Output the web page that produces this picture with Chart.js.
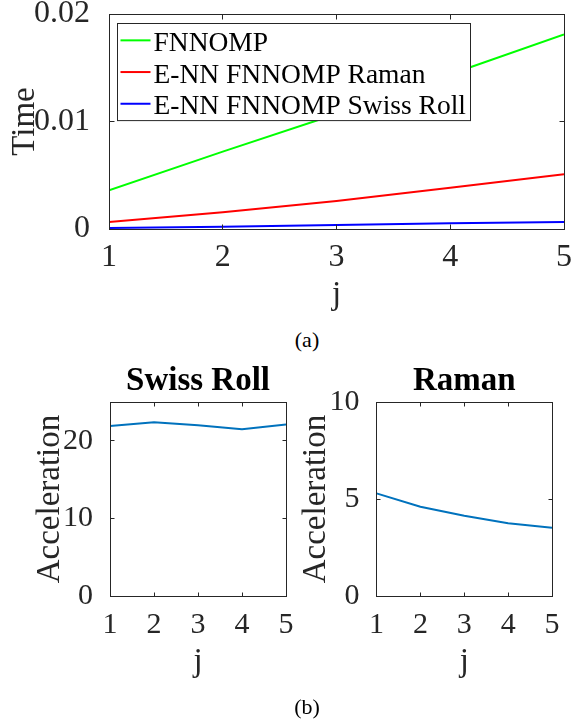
<!DOCTYPE html>
<html>
<head>
<meta charset="utf-8">
<script src="https://cdn.jsdelivr.net/npm/chart.js@4.4.0/dist/chart.umd.min.js"></script>
<style>
  html, body { margin: 0; padding: 0; background: #fff; }
  #page { position: relative; width: 579px; height: 724px; overflow: hidden; font-family: 'Liberation Serif', 'Times New Roman', serif; }
  canvas { position: absolute; }
  .caption { position: absolute; font-size: 22px; line-height: 25px; color: #000; transform: translateX(-50%); }
</style>
</head>
<body>
<div id="page">
  <canvas id="timeChart" width="579" height="320" style="left:0;top:0"></canvas>
  <div class="caption" style="left:307px;top:327px">(a)</div>
  <canvas id="swissChart" width="300" height="335" style="left:0;top:350px"></canvas>
  <canvas id="ramanChart" width="289" height="335" style="left:290px;top:350px"></canvas>
  <div class="caption" style="left:307px;top:694px">(b)</div>
</div>
<script>
// --- Data ---
const jValues = [1, 2, 3, 4, 5];
const timeFnnomp = [0.0036, 0.0072, 0.0107, 0.0144, 0.0181];
const timeEnnRaman = [0.00064, 0.00155, 0.0026, 0.00384, 0.00509];
const timeEnnSwiss = [0.0001, 0.00021, 0.00037, 0.00053, 0.00065];
const accelSwiss = [21.9, 22.4, 22.0, 21.5, 22.1];
const accelRaman = [5.29, 4.60, 4.14, 3.75, 3.52];

const jTicks = [1, 2, 3, 4, 5];
const timeTicks = [0, 0.01, 0.02];
const swissTicks = [0, 10, 20];
const ramanTicks = [0, 5, 10];

// --- Look ---
const FONT = "'Liberation Serif', 'Times New Roman', serif";
const INK = '#262626';

const toPoints = (ys) => jValues.map((j, i) => ({ x: j, y: ys[i] }));

// MATLAB style box with inward ticks on all four sides
const matlabBox = {
  id: 'matlabBox',
  afterDatasetsDraw(chart, args, opts) {
    const { ctx, chartArea: a, scales: { x, y } } = chart;
    const len = opts.tickLength || 5;
    const L = Math.floor(a.left) + 0.5, R = Math.floor(a.right) + 0.5;
    const T = Math.floor(a.top) + 0.5, B = Math.floor(a.bottom) + 0.5;
    ctx.save();
    ctx.strokeStyle = INK;
    ctx.lineWidth = 1;
    ctx.beginPath();
    x.ticks.forEach(t => {
      const px = Math.floor(x.getPixelForValue(t.value)) + 0.5;
      ctx.moveTo(px, B); ctx.lineTo(px, B - len);
      ctx.moveTo(px, T); ctx.lineTo(px, T + len);
    });
    y.ticks.forEach(t => {
      const py = Math.floor(y.getPixelForValue(t.value)) + 0.5;
      ctx.moveTo(L, py); ctx.lineTo(L + len, py);
      ctx.moveTo(R, py); ctx.lineTo(R - len, py);
    });
    ctx.stroke();
    ctx.strokeRect(L, T, R - L, B - T);
    ctx.restore();
  }
};

// Legend drawn inside the axes, with a frame
const boxLegend = {
  id: 'boxLegend',
  afterDraw(chart, args, opts) {
    if (!opts.display) return;
    const { ctx, chartArea } = chart;
    const sets = chart.data.datasets;
    ctx.save();
    ctx.font = `${opts.fontSize}px ${FONT}`;
    const textW = Math.max(...sets.map(d => ctx.measureText(d.label).width));
    const left = Math.floor(chartArea.left + opts.offsetX) + 0.5;
    const top = Math.floor(chartArea.top + opts.offsetY) + 0.5;
    const w = Math.round(3 + opts.lineLength + 3 + textW + 5);
    const h = sets.length * opts.rowHeight + 2;
    ctx.fillStyle = '#fff';
    ctx.fillRect(left, top, w, h);
    ctx.strokeStyle = INK;
    ctx.lineWidth = 1;
    ctx.strokeRect(left, top, w, h);
    sets.forEach((d, i) => {
      const cy = top + 1 + opts.rowHeight * (i + 0.5);
      ctx.strokeStyle = d.borderColor;
      ctx.lineWidth = 2;
      ctx.beginPath();
      ctx.moveTo(left + 3, cy);
      ctx.lineTo(left + 3 + opts.lineLength, cy);
      ctx.stroke();
      ctx.fillStyle = '#000';
      ctx.textBaseline = 'alphabetic';
      ctx.fillText(d.label, left + 6 + opts.lineLength, cy + 10.5);
    });
    ctx.restore();
  }
};

// Bold panel title centred over the plot area
const panelTitle = {
  id: 'panelTitle',
  afterDraw(chart, args, opts) {
    if (!opts.text) return;
    const { ctx, chartArea } = chart;
    ctx.save();
    ctx.font = `bold ${opts.size}px ${FONT}`;
    ctx.fillStyle = '#000';
    ctx.textAlign = 'center';
    ctx.textBaseline = 'alphabetic';
    ctx.fillText(opts.text, (chartArea.left + chartArea.right) / 2, chartArea.top - opts.gap);
    ctx.restore();
  }
};

Chart.register(matlabBox, boxLegend, panelTitle);

function xScale(cfg) {
  return {
    type: 'linear', min: 1, max: 5,
    afterBuildTicks: s => { s.ticks = jTicks.map(v => ({ value: v })); },
    afterFit: s => { s.height = cfg.height; s.paddingLeft = 0; s.paddingRight = 0; },
    grid: { display: false },
    border: { display: false },
    ticks: { color: INK, font: { family: FONT, size: cfg.tickSize }, padding: cfg.tickPad, maxRotation: 0, autoSkip: false },
    title: { display: true, text: 'j', color: INK, font: { family: FONT, size: 33 }, padding: { top: 0, bottom: cfg.titlePad } }
  };
}

function yScale(cfg) {
  return {
    type: 'linear', min: cfg.min, max: cfg.max,
    afterBuildTicks: s => { s.ticks = cfg.ticks.map(v => ({ value: v })); },
    afterFit: s => { s.width = cfg.width; s.paddingTop = 0; s.paddingBottom = 0; },
    grid: { display: false },
    border: { display: false },
    ticks: { color: INK, font: { family: FONT, size: cfg.tickSize }, padding: cfg.tickPad, callback: cfg.format || (v => String(v)) },
    title: { display: true, text: cfg.title, color: INK, font: { family: FONT, size: 33 }, padding: { top: cfg.titlePad, bottom: 0 } }
  };
}

function lineSet(label, ys, color) {
  return { label, data: toPoints(ys), borderColor: color, backgroundColor: color, borderWidth: 2, pointRadius: 0, tension: 0, fill: false };
}

const baseOptions = {
  responsive: false,
  animation: false,
  events: [],
  plugins: { legend: { display: false }, tooltip: { enabled: false } }
};

// --- (a) time ---
new Chart(document.getElementById('timeChart'), {
  type: 'line',
  data: {
    datasets: [
      lineSet('FNNOMP', timeFnnomp, '#00ff00'),
      lineSet('E-NN FNNOMP Raman', timeEnnRaman, '#ff0000'),
      lineSet('E-NN FNNOMP Swiss Roll', timeEnnSwiss, '#0000ff')
    ]
  },
  options: {
    ...baseOptions,
    layout: { padding: { left: 0, top: 14, right: 15, bottom: 0 } },
    scales: {
      x: xScale({ height: 91, tickSize: 32, tickPad: 1, titlePad: 5 }),
      y: yScale({ min: 0, max: 0.02, ticks: timeTicks, width: 109, tickSize: 32, tickPad: 11, title: 'Time', titlePad: 6,
                  format: v => String(+v.toFixed(2)) })
    },
    plugins: {
      ...baseOptions.plugins,
      matlabBox: { tickLength: 5 },
      boxLegend: { display: true, offsetX: 8, offsetY: 9, fontSize: 27.5, lineLength: 30, rowHeight: 31.7 }
    }
  }
});

// --- (b) acceleration ---
new Chart(document.getElementById('swissChart'), {
  type: 'line',
  data: { datasets: [lineSet('Swiss Roll', accelSwiss, '#0072BD')] },
  options: {
    ...baseOptions,
    layout: { padding: { left: 0, top: 52, right: 14, bottom: 0 } },
    scales: {
      x: xScale({ height: 89, tickSize: 30, tickPad: 3, titlePad: 3 }),
      y: yScale({ min: 0, max: 25, ticks: swissTicks, width: 110, tickSize: 30, tickPad: 9, title: 'Acceleration', titlePad: 31 })
    },
    plugins: { ...baseOptions.plugins, matlabBox: { tickLength: 4 }, panelTitle: { text: 'Swiss Roll', size: 33, gap: 12 } }
  }
});

new Chart(document.getElementById('ramanChart'), {
  type: 'line',
  data: { datasets: [lineSet('Raman', accelRaman, '#0072BD')] },
  options: {
    ...baseOptions,
    layout: { padding: { left: 0, top: 52, right: 27, bottom: 0 } },
    scales: {
      x: xScale({ height: 89, tickSize: 30, tickPad: 3, titlePad: 3 }),
      y: yScale({ min: 0, max: 10, ticks: ramanTicks, width: 86.5, tickSize: 30, tickPad: 9, title: 'Acceleration', titlePad: 7 })
    },
    plugins: { ...baseOptions.plugins, matlabBox: { tickLength: 4 }, panelTitle: { text: 'Raman', size: 33, gap: 12 } }
  }
});
</script>
</body>
</html>
